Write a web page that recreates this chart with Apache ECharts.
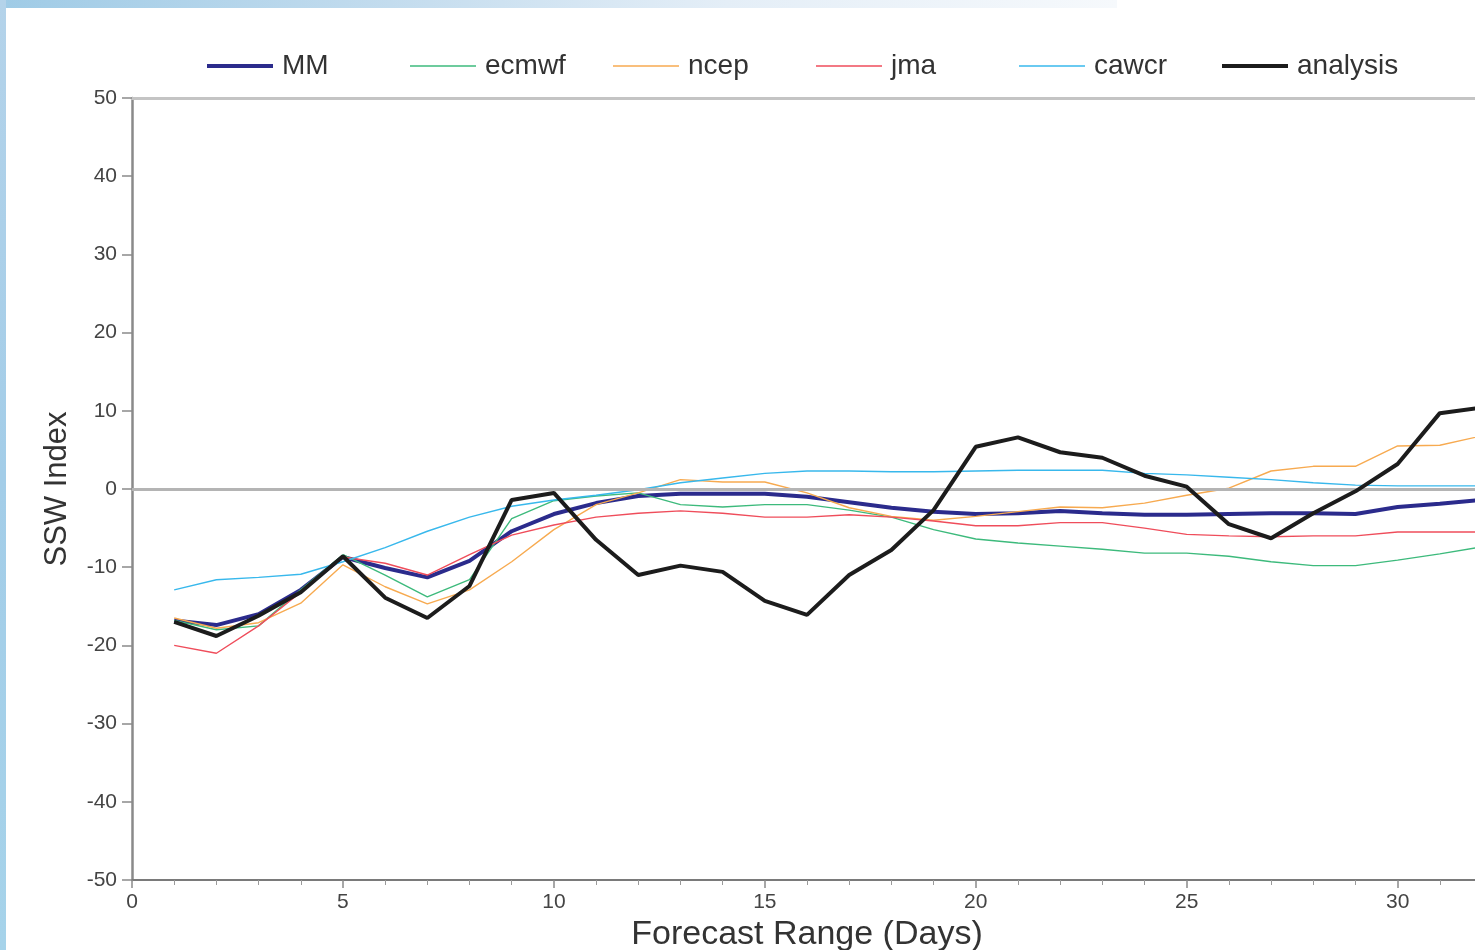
<!DOCTYPE html>
<html>
<head>
<meta charset="utf-8">
<title>SSW Index forecasts</title>
<script src="https://cdn.jsdelivr.net/npm/echarts@6/dist/echarts.min.js"></script>
<style>
  html, body { margin: 0; padding: 0; background: #ffffff; }
  #frameTop { position: absolute; left: 0; top: 0; width: 1117px; height: 8px;
    background: linear-gradient(to right, #9fcbe6 0%, #c3dcee 35%, #e4eef7 65%, #f6f9fc 100%); }
  #frameLeft { position: absolute; left: 0; top: 0; width: 6px; height: 950px;
    background: linear-gradient(to bottom, #b4d3ea 0%, #a3cde8 50%, #a6d3ea 100%); }
  #chart { position: absolute; left: 0; top: 0; width: 1475px; height: 950px; }
</style>
</head>
<body>
<div id="frameTop"></div>
<div id="frameLeft"></div>
<div id="chart"></div>
<script>
// Forecast lead time (days)
const days = [1,2,3,4,5,6,7,8,9,10,11,12,13,14,15,16,17,18,19,20,21,22,23,24,25,26,27,28,29,30,31,32];

// SSW index per forecast day
const mm       = [-16.8,-17.4,-16.0,-12.9,-8.7,-10.1,-11.3,-9.2,-5.4,-3.2,-1.8,-0.9,-0.6,-0.6,-0.6,-1.0,-1.7,-2.4,-2.9,-3.2,-3.1,-2.8,-3.1,-3.3,-3.3,-3.2,-3.1,-3.1,-3.2,-2.3,-1.9,-1.4];
const ecmwf    = [-16.8,-18.0,-17.5,-12.9,-8.4,-11.0,-13.8,-11.6,-3.8,-1.5,-0.9,-0.5,-2.0,-2.3,-2.0,-2.0,-2.7,-3.6,-5.2,-6.4,-6.9,-7.3,-7.7,-8.2,-8.2,-8.6,-9.3,-9.8,-9.8,-9.1,-8.3,-7.4];
const ncep     = [-16.5,-17.8,-17.1,-14.6,-9.7,-12.5,-14.7,-12.9,-9.3,-5.2,-2.0,-0.5,1.2,0.9,0.9,-0.5,-2.4,-3.5,-4.0,-3.5,-2.9,-2.3,-2.4,-1.8,-0.8,0.1,2.3,2.9,2.9,5.5,5.6,6.8];
const jma      = [-20.0,-21.0,-17.5,-13.2,-8.7,-9.5,-11.0,-8.4,-5.9,-4.6,-3.6,-3.1,-2.8,-3.1,-3.6,-3.6,-3.3,-3.6,-4.1,-4.7,-4.7,-4.3,-4.3,-5.0,-5.8,-6.0,-6.1,-6.0,-6.0,-5.5,-5.5,-5.5];
const cawcr    = [-12.9,-11.6,-11.3,-10.9,-9.3,-7.5,-5.4,-3.6,-2.2,-1.4,-0.8,-0.1,0.8,1.4,2.0,2.3,2.3,2.2,2.2,2.3,2.4,2.4,2.4,2.0,1.8,1.5,1.2,0.8,0.5,0.4,0.4,0.4];
const analysis = [-17.0,-18.8,-16.2,-13.2,-8.6,-13.9,-16.5,-12.4,-1.4,-0.5,-6.5,-11.0,-9.8,-10.6,-14.3,-16.1,-11.0,-7.8,-2.7,5.4,6.6,4.7,4.0,1.7,0.3,-4.5,-6.3,-3.1,-0.3,3.2,9.7,10.4];

const seriesNames = ['MM','ecmwf','ncep','jma','cawcr','analysis'];
const seriesData  = [mm, ecmwf, ncep, jma, cawcr, analysis];
const seriesColors = ['#2b2b8c','#3dba7c','#f7aa50','#ef4d5b','#38b8ec','#1c1c1c'];
const seriesWidths = [4, 1.4, 1.4, 1.4, 1.4, 4];

const FONT = '"Liberation Sans", Arial, Helvetica, sans-serif';
const legendX = [207, 410, 613, 816, 1019, 1222];

const chart = echarts.init(document.getElementById('chart'), null, { renderer: 'canvas' });

const series = seriesNames.map((name, i) => ({
  name: name,
  type: 'line',
  data: days.map((d, k) => [d, seriesData[i][k]]),
  showSymbol: false,
  symbol: 'none',
  color: seriesColors[i],
  lineStyle: { color: seriesColors[i], width: seriesWidths[i] },
  z: i === 5 ? 5 : (i === 0 ? 3 : 4),
  animation: false
}));

// zero reference line
series.push({
  type: 'line',
  data: [],
  silent: true,
  z: 1,
  markLine: {
    silent: true,
    symbol: 'none',
    label: { show: false },
    lineStyle: { color: '#b4b4b4', width: 3, type: 'solid' },
    data: [{ yAxis: 0 }],
    animation: false
  }
});

const option = {
  animation: false,
  textStyle: { fontFamily: FONT },
  legend: seriesNames.map((name, i) => ({
    data: [name],
    left: legendX[i],
    top: 52,
    itemWidth: 66,
    itemHeight: seriesWidths[i] > 2 ? 4 : 1.5,
    itemGap: 0,
    padding: 0,
    icon: 'rect',
    selectedMode: false,
    textStyle: { fontFamily: FONT, fontSize: 28, color: '#333333', padding: [0, 0, 0, 4] },
    itemStyle: { color: seriesColors[i] },
    lineStyle: { width: 0 }
  })),
  grid: { left: 132, right: -7, top: 98, bottom: 70, containLabel: false, outerBoundsMode: 'none' },
  xAxis: [{
    type: 'value',
    min: 0,
    max: 32,
    interval: 5,
    name: 'Forecast Range (Days)',
    nameLocation: 'middle',
    nameGap: 34,
    nameTextStyle: { fontFamily: FONT, fontSize: 34, color: '#333333' },
    axisLine: { show: true, onZero: false, lineStyle: { color: '#7a7a7a', width: 2 } },
    axisTick: { show: true, length: 8, lineStyle: { color: '#8a8a8a', width: 1.5 } },
    minorTick: { show: true, splitNumber: 5, length: 5, lineStyle: { color: '#9a9a9a', width: 1 } },
    axisLabel: { fontFamily: FONT, fontSize: 21, color: '#444444', margin: 12, showMaxLabel: false },
    splitLine: { show: false }
  }, {
    type: 'value',
    position: 'top',
    min: 0,
    max: 32,
    axisLine: { show: true, onZero: false, lineStyle: { color: '#c4c4c4', width: 3 } },
    axisTick: { show: false },
    axisLabel: { show: false },
    splitLine: { show: false }
  }],
  yAxis: {
    type: 'value',
    min: -50,
    max: 50,
    interval: 10,
    name: 'SSW Index',
    nameLocation: 'middle',
    nameGap: 59,
    nameTextStyle: { fontFamily: FONT, fontSize: 31, color: '#333333' },
    axisLine: { show: true, onZero: false, lineStyle: { color: '#8a8a8a', width: 2.5 } },
    axisTick: { show: true, length: 10, lineStyle: { color: '#8a8a8a', width: 1.5 } },
    axisLabel: { fontFamily: FONT, fontSize: 21, color: '#444444', margin: 15 },
    splitLine: { show: false }
  },
  series: series
};

chart.setOption(option);
</script>
</body>
</html>
